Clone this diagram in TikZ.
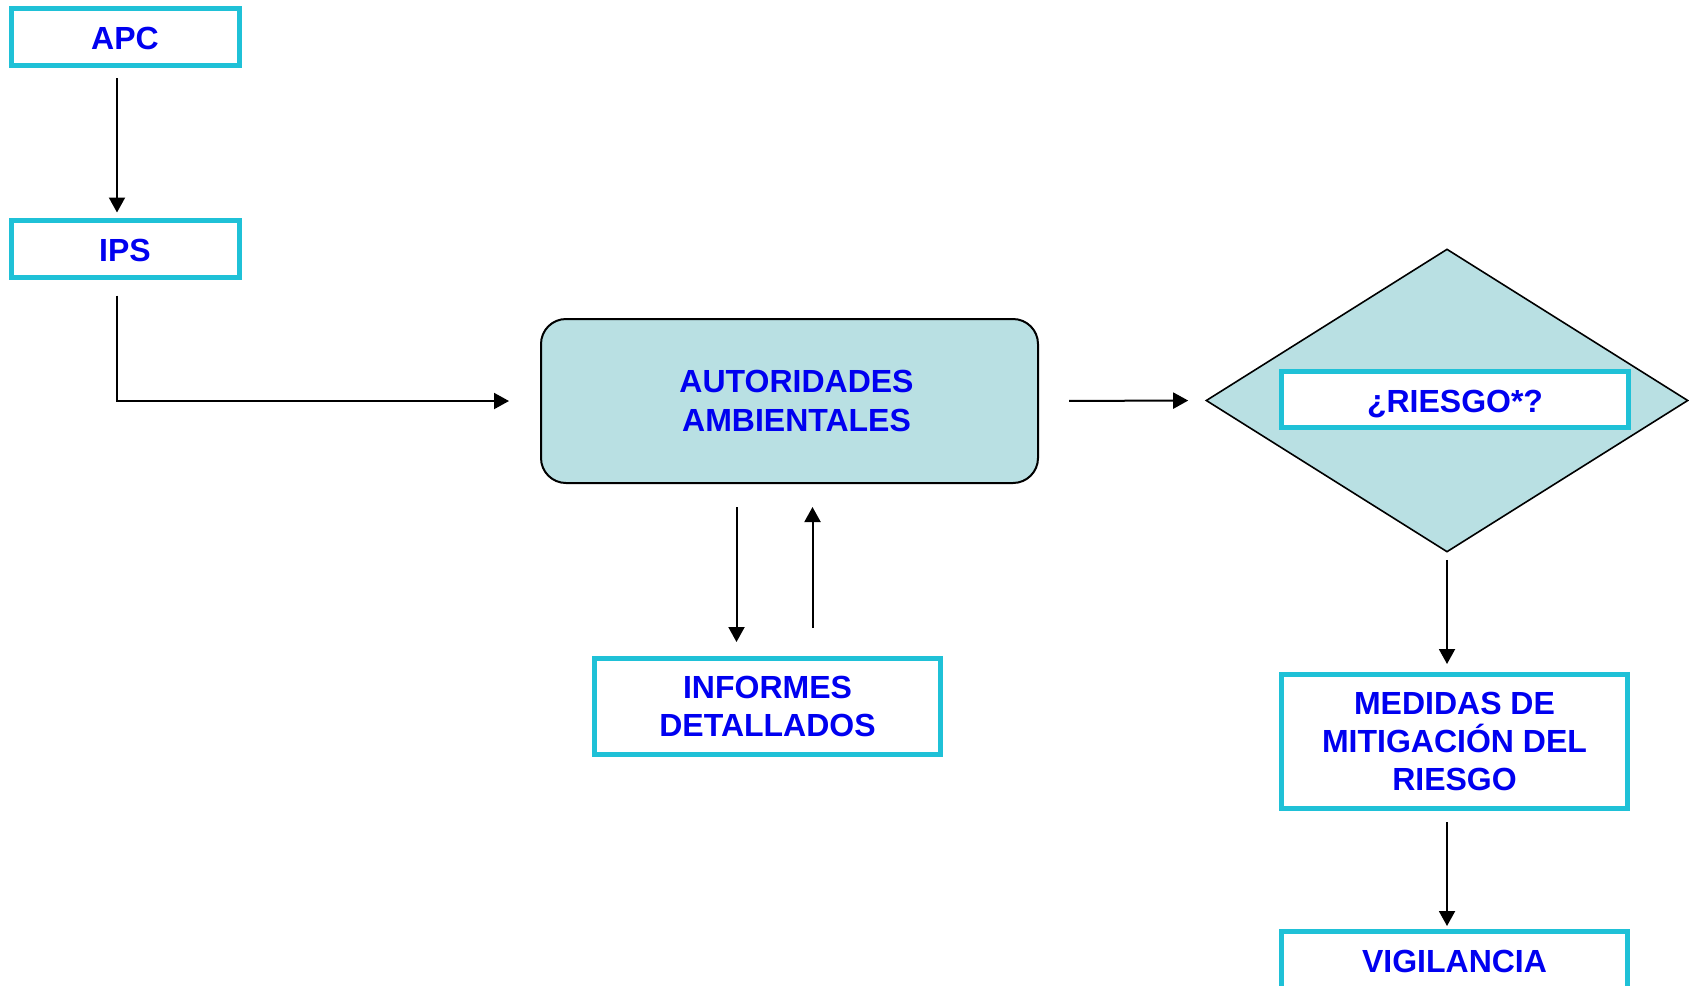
\documentclass[tikz,border=0pt]{standalone}
\usepackage{fontspec}
\setmainfont{Liberation Sans}
\usetikzlibrary{shapes.geometric,arrows.meta}
\definecolor{boxcyan}{RGB}{31,193,215}
\definecolor{tealfill}{RGB}{185,224,227}
\definecolor{textblue}{RGB}{0,0,240}

\begin{document}
\begin{tikzpicture}[x=0.5pt,y=-0.5pt,
  every node/.style={font=\bfseries\fontsize{16pt}{19.2pt}\selectfont, text=textblue, align=center},
  cyanbox/.style={draw=boxcyan, line width=2.5pt, fill=white, inner sep=0pt},
  oneline/.style={text height=12.5pt, text depth=0pt},
  tealbox/.style={draw=black, line width=1pt, fill=tealfill, rounded corners=12.5pt, inner sep=0pt},
  arr/.style={-{Triangle[length=7.5pt,width=8pt]}, line width=1pt}]

\useasboundingbox (0,0) rectangle (1689,985);

% Left column
\node[cyanbox, oneline, minimum width=114pt, minimum height=28.5pt] (APC) at (125,37) {APC};
\node[cyanbox, oneline, minimum width=114pt, minimum height=28.5pt] (IPS) at (125,248.5) {IPS};

% Middle
\node[tealbox, minimum width=248.5pt, minimum height=82pt] (AUT) at (789.5,401) {\hspace*{7pt}AUTORIDADES\\\hspace*{7pt}AMBIENTALES};
\node[cyanbox, minimum width=173pt, minimum height=48pt] (INF) at (767.5,706.5) {INFORMES\\DETALLADOS};

% Right column
\node[diamond, draw=black, line width=0.8pt, fill=tealfill, inner sep=0pt,
      minimum width=241pt, minimum height=151.5pt] (DIA) at (1447,400.5) {};
\node[cyanbox, oneline, minimum width=173.5pt, minimum height=28pt] (RIS) at (1455,399.5) {¿RIESGO*?};
\node[cyanbox, minimum width=173pt, minimum height=67pt] (MED) at (1454.5,741.5) {MEDIDAS DE\\MITIGACIÓN DEL\\RIESGO};
\node[cyanbox, oneline, minimum width=173pt, minimum height=28.5pt] (VIG) at (1454.5,960) {VIGILANCIA};

% Connectors
\draw[arr, shorten <=5pt, shorten >=2.5pt] ([xshift=-4pt]APC.south) -- ([xshift=-4pt]IPS.north);
\draw[arr, shorten <=8pt, shorten >=15.5pt] ([xshift=-4pt]IPS.south) |- (AUT.west);
\draw[arr, shorten <=11.5pt, shorten >=7pt] ([xshift=-26.5pt]AUT.south) -- ([xshift=-26.5pt]AUT.south |- INF.north);
\draw[arr, shorten <=14pt, shorten >=11.5pt] ([xshift=11.5pt]AUT.south |- INF.north) -- ([xshift=11.5pt]AUT.south);
\draw[arr, shorten <=15pt, shorten >=8.5pt] (AUT.east) -- (DIA.west);
\draw[arr, shorten <=3.5pt, shorten >=4pt] (DIA.south) -- (DIA.south |- MED.north);
\draw[arr, shorten <=5.5pt, shorten >=1.5pt] ([xshift=-3.75pt]MED.south) -- ([xshift=-3.75pt]VIG.north);

\end{tikzpicture}
\end{document}
